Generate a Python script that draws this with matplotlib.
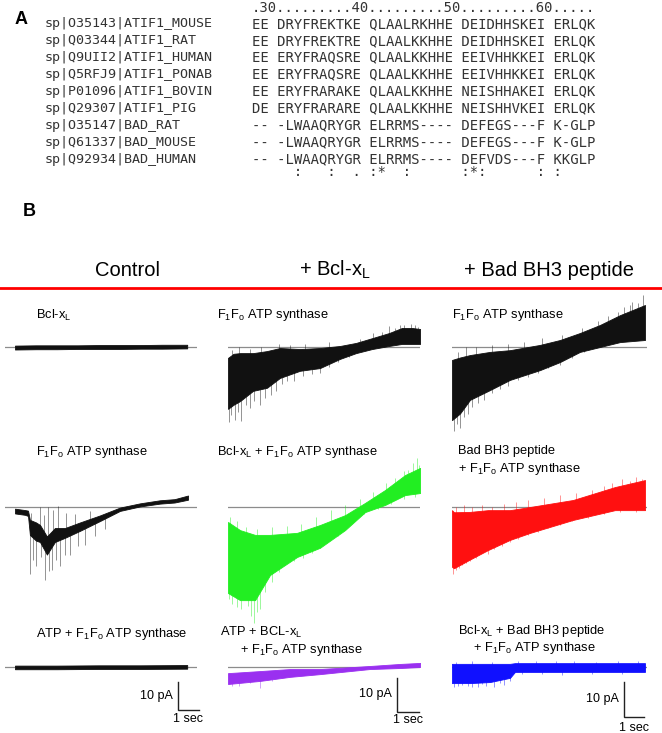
import matplotlib.pyplot as plt
import numpy as np

W, H = 662, 733
plt.rcParams['font.family'] = ['Liberation Sans', 'DejaVu Sans']
plt.rcParams['mathtext.fontset'] = 'custom'
plt.rcParams['mathtext.rm'] = 'Liberation Sans'
plt.rcParams['mathtext.it'] = 'Liberation Sans:italic'
plt.rcParams['mathtext.default'] = 'regular'

# ---------------- panel A: alignment ----------------
names = ["sp|O35143|ATIF1_MOUSE", "sp|Q03344|ATIF1_RAT", "sp|Q9UII2|ATIF1_HUMAN",
         "sp|Q5RFJ9|ATIF1_PONAB", "sp|P01096|ATIF1_BOVIN", "sp|Q29307|ATIF1_PIG",
         "sp|O35147|BAD_RAT", "sp|Q61337|BAD_MOUSE", "sp|Q92934|BAD_HUMAN"]
seqs = ["EE DRYFREKTKE QLAALRKHHE DEIDHHSKEI ERLQK",
        "EE DRYFREKTRE QLAALKKHHE DEIDHHSKEI ERLQK",
        "EE ERYFRAQSRE QLAALKKHHE EEIVHHKKEI ERLQK",
        "EE ERYFRAQSRE QLAALKKHHE EEIVHHKKEI ERLQK",
        "EE ERYFRARAKE QLAALKKHHE NEISHHAKEI ERLQK",
        "DE ERYFRARARE QLAALKKHHE NEISHHVKEI ERLQK",
        "-- -LWAAQRYGR ELRRMS---- DEFEGS---F K-GLP",
        "-- -LWAAQRYGR ELRRMS---- DEFEGS---F K-GLP",
        "-- -LWAAQRYGR ELRRMS---- DEFVDS---F KKGLP"]
ruler = ".30.........40.........50.........60....."
consensus = "     :   :  . :*  :      :*:      : :"

# ---------------- panel B: current traces (time s, current pA) ----------------
# envelope (t, lo, hi) + downward / upward spikes (t, v)

# Control column
ctl_bcl_t = [0, 1, 2, 3, 4, 5, 6, 7, 8.2]
ctl_bcl_lo = [-0.9, -0.8, -0.8, -0.7, -0.7, -0.7, -0.6, -0.6, -0.5]
ctl_bcl_hi = [0.5, 0.6, 0.6, 0.6, 0.7, 0.7, 0.7, 0.8, 0.8]

ctl_f1fo_t = [0, 0.48, 0.62, 0.71, 1.0, 1.19, 1.52, 1.9, 2.38, 3.1, 4.05, 5.0, 5.95, 6.9, 7.6, 8.24]
ctl_f1fo_lo = [-2.3, -2.8, -3.2, -10.0, -12.0, -12.5, -17.0, -12.5, -11.0, -8.5, -5.0, -1.4, 0.2, 1.2, 1.6, 2.6]
ctl_f1fo_hi = [-0.6, -1.1, -1.3, -4.6, -5.5, -6.4, -10.5, -7.5, -7.5, -5.5, -3.0, -0.2, 1.3, 2.4, 2.8, 4.1]
ctl_f1fo_dn_t = [0.71, 0.86, 1.0, 1.24, 1.43, 1.62, 1.76, 1.95, 2.14, 2.38, 2.62, 3.0, 3.33, 3.8, 4.3]
ctl_f1fo_dn_v = [-24.0, -19.0, -21.0, -18.0, -26.0, -23.0, -22.5, -19.0, -21.0, -17.0, -17.0, -14.0, -13.5, -10.5, -8.0]
ctl_f1fo_up_t = [0.76, 1.19, 1.38, 1.57, 1.8, 2.05, 2.43, 2.86, 3.57]
ctl_f1fo_up_v = [-2.0, 0.0, -3.0, 0.0, -1.0, 0.3, -2.0, -2.5, -1.5]

ctl_atp_t = [0, 2, 4, 6, 8.2]
ctl_atp_lo = [-0.8, -0.8, -0.7, -0.7, -0.6]
ctl_atp_hi = [0.5, 0.5, 0.6, 0.6, 0.7]

# + Bcl-xL column
bx_f1fo_t = [0, 0.25, 0.55, 1.14, 1.77, 2.36, 3.27, 4.18, 5.09, 5.82, 6.55, 7.32, 7.91, 8.36, 8.73]
bx_f1fo_lo = [-18.2, -17.0, -15.9, -12.9, -12.0, -9.1, -7.0, -6.2, -3.5, -1.8, -0.6, 0.3, 0.9, 0.9, 0.9]
bx_f1fo_hi = [-3.2, -2.0, -1.8, -1.8, -1.2, -0.3, -0.6, -0.3, 0.3, 1.2, 2.6, 4.1, 5.6, 5.6, 5.3]
bx_f1fo_dn_t = [0.05, 0.15, 0.3, 0.45, 0.6, 0.8, 1.0, 1.2, 1.45, 1.7, 1.95, 2.2, 2.45, 2.7,
                3.0, 3.4, 3.8, 4.2, 4.6, 5.0, 5.5]
bx_f1fo_dn_v = [-22.0, -20.0, -21.5, -19.0, -21.8, -17.0, -18.0, -16.0, -17.0, -15.0, -14.0,
                -13.0, -11.0, -10.0, -10.0, -8.5, -8.0, -7.5, -6.0, -4.5, -3.0]
bx_f1fo_up_t = [0.2, 0.5, 1.0, 1.5, 2.3, 2.8, 3.5, 4.6, 6.0, 6.6, 7.0, 7.3, 7.6, 7.8, 8.0, 8.3, 8.5, 8.65]
bx_f1fo_up_v = [-1.0, 0.0, -0.5, 0.0, 1.0, 0.5, 1.0, 1.5, 2.5, 4.0, 4.5, 6.2, 5.5, 6.5, 6.5, 6.8, 6.4, 6.0]

bx_bclf1fo_t = [0, 0.55, 1.23, 1.91, 3.14, 4.18, 5.32, 6.23, 7.14, 8.05, 8.73]
bx_bclf1fo_lo = [-25.3, -27.4, -27.4, -20.0, -14.7, -12.0, -6.8, -1.5, 0.6, 3.5, 4.1]
bx_bclf1fo_hi = [-4.4, -6.8, -8.2, -8.2, -7.6, -5.3, -2.4, 1.2, 5.0, 9.4, 11.5]
bx_bclf1fo_dn_t = [0.05, 0.2, 0.4, 0.6, 0.9, 1.05, 1.2, 1.3, 1.45, 1.7, 2.0, 2.3, 2.6, 3.0, 3.4,
                   3.8, 4.2, 4.6, 5.0, 5.4, 5.8, 6.2, 6.8, 7.4, 8.0, 8.5]
bx_bclf1fo_dn_v = [-27.0, -28.5, -29.5, -30.0, -29.0, -32.0, -34.0, -31.0, -30.0, -25.0, -22.0,
                   -19.0, -17.0, -16.0, -15.0, -13.5, -12.0, -10.0, -8.5, -6.0, -3.5, -2.0,
                   -0.5, 1.0, 2.5, 3.0]
bx_bclf1fo_up_t = [0.1, 0.4, 0.8, 1.3, 2.0, 2.7, 3.3, 4.0, 4.7, 5.3, 6.0, 6.6, 7.2, 7.6, 8.0,
                   8.2, 8.4, 8.6, 8.7]
bx_bclf1fo_up_v = [-3.0, -4.0, -6.0, -6.5, -6.0, -5.5, -5.0, -3.0, -1.0, 0.5, 2.5, 4.5, 7.0,
                   8.5, 10.5, 11.0, 13.0, 14.4, 12.5]

bx_atp_t = [0, 1.45, 2.82, 4.18, 6.45, 7.82, 8.73]
bx_atp_lo = [-5.0, -4.1, -2.9, -2.1, -0.6, -0.3, 0.0]
bx_atp_hi = [-1.8, -1.2, -0.6, -0.6, 0.3, 0.9, 1.2]
bx_atp_dn_t = [0.2, 0.5, 1.0, 1.45, 2.0]
bx_atp_dn_v = [-5.5, -5.5, -4.8, -6.2, -4.0]
bx_atp_up_t = []
bx_atp_up_v = []

# + Bad BH3 peptide column
bad_f1fo_t = [0, 0.4, 0.9, 1.9, 2.9, 4.4, 5.4, 6.4, 7.4, 8.4, 9.65]
bad_f1fo_lo = [-20.9, -19.0, -15.1, -12.3, -9.4, -6.6, -4.3, -1.4, 0.0, 1.4, 2.0]
bad_f1fo_hi = [-3.7, -3.0, -2.3, -1.4, -0.9, 0.6, 2.0, 4.0, 6.3, 9.1, 12.0]
bad_f1fo_dn_t = [0.1, 0.25, 0.4, 0.6, 0.8, 1.0, 1.3, 1.6, 2.0, 2.4, 2.8, 3.3, 3.8, 4.3, 4.8,
                 5.4, 6.0, 6.6]
bad_f1fo_dn_v = [-24.0, -22.0, -23.0, -20.0, -19.0, -17.0, -16.0, -15.0, -13.0, -12.0, -11.0,
                 -9.5, -8.5, -7.5, -6.0, -5.0, -3.0, -1.5]
bad_f1fo_up_t = [0.3, 0.7, 1.2, 2.0, 2.8, 3.6, 4.5, 5.5, 6.5, 7.3, 7.8, 8.3, 8.6, 8.9, 9.0, 9.3, 9.55]
bad_f1fo_up_v = [-1.5, 0.0, 0.0, 0.5, 1.0, 1.5, 2.5, 3.5, 5.5, 7.5, 9.0, 10.0, 11.5, 12.0,
                 13.0, 12.5, 14.9]

bad_badf1fo_t = [0, 0.1, 0.9, 1.8, 2.9, 3.9, 6.05, 8.15, 9.65]
bad_badf1fo_lo = [-17.1, -17.5, -15.0, -12.3, -9.4, -7.4, -3.7, -0.9, -0.9]
bad_badf1fo_hi = [-0.9, -1.5, -1.4, -0.9, -0.9, 0.0, 2.0, 5.7, 7.7]
bad_badf1fo_dn_t = [0.05, 0.2, 0.35, 0.5, 0.7, 0.9, 1.2, 1.5, 1.8, 2.1, 2.5, 2.9, 3.3, 3.8, 4.3,
                    4.8, 5.4, 6.0, 6.8, 7.6, 8.4, 9.2]
bad_badf1fo_dn_v = [-19.0, -18.0, -17.5, -16.5, -16.0, -15.5, -14.5, -13.0, -13.5, -12.0, -11.0,
                    -10.0, -9.0, -8.0, -7.0, -6.0, -5.0, -4.0, -3.0, -2.0, -1.5, -1.5]
bad_badf1fo_up_t = [0.2, 0.6, 1.0, 1.5, 2.0, 2.6, 3.2, 3.8, 4.6, 5.4, 6.2, 7.0, 7.6, 8.0, 8.5,
                    8.9, 9.2, 9.5]
bad_badf1fo_up_v = [0.0, 0.5, 0.0, 0.5, 0.0, 1.0, 1.5, 2.0, 2.5, 3.5, 4.0, 5.0, 6.0, 7.0, 8.0,
                    7.5, 8.5, 8.0]

bad_bclbad_t = [0, 0.9, 1.9, 2.9, 3.15, 5.0, 7.5, 9.65]
bad_bclbad_lo = [-4.6, -4.6, -4.3, -3.1, -1.4, -1.4, -1.4, -1.4]
bad_bclbad_hi = [0.9, 0.9, 0.9, 0.9, 1.1, 1.1, 1.1, 1.1]
bad_bclbad_dn_t = [0.1, 0.3, 0.5, 0.8, 1.0, 1.3, 1.5, 1.7, 2.1, 2.4, 2.6, 2.9, 3.5, 4.5, 5.5, 7.0, 8.5]
bad_bclbad_dn_v = [-5.7, -5.5, -5.2, -5.5, -5.6, -5.7, -4.8, -5.4, -5.6, -4.5, -5.0, -4.0,
                   -2.0, -2.0, -2.2, -2.0, -2.0]
bad_bclbad_up_t = [0.2, 1.0, 2.0, 3.3, 4.2, 5.2, 6.1, 7.2, 8.3, 9.3]
bad_bclbad_up_v = [1.5, 1.6, 1.5, 1.8, 1.6, 1.7, 1.8, 1.5, 1.6, 1.8]

# ---------------- layout (pixels) ----------------
col_x0 = [5, 228, 452]          # baseline start
col_x1 = [197, 420, 647]        # baseline end
col_trace_x0 = [15, 228, 452]   # t = 0
px_per_s = [21, 22, 20]
px_per_pA = [2.8, 3.4, 3.5]
row_base_y = [347, 507, 667]

fig = plt.figure(figsize=(W / 100, H / 100), dpi=100)


def fx(x):
    return x / W


def fy(y):
    return 1 - y / H


def trace_axes(c, r, up=70, down=90):
    ax = fig.add_axes([fx(col_x0[c]), fy(row_base_y[r] + down),
                       (col_x1[c] - col_x0[c]) / W, (up + down) / H])
    t0 = -(col_trace_x0[c] - col_x0[c]) / px_per_s[c]
    ax.set_xlim(t0, t0 + (col_x1[c] - col_x0[c]) / px_per_s[c])
    ax.set_ylim(-down / px_per_pA[c], up / px_per_pA[c])
    ax.axis('off')
    ax.axhline(0, color='#8c8c8c', lw=0.9, zorder=1)
    return ax


def draw_trace(ax, t, lo, hi, color, dn_t=(), dn_v=(), up_t=(), up_v=()):
    t = np.asarray(t)
    lo = np.asarray(lo)
    hi = np.asarray(hi)
    mid = (lo + hi) / 2
    ax.fill_between(t, lo, hi, color=color, lw=0.6, zorder=2, clip_on=False)
    if len(dn_t):
        ax.vlines(dn_t, dn_v, np.interp(dn_t, t, mid), color=color, lw=0.45,
                  alpha=0.7, zorder=2, clip_on=False)
    if len(up_t):
        ax.vlines(up_t, np.interp(up_t, t, mid), up_v, color=color, lw=0.45,
                  alpha=0.7, zorder=2, clip_on=False)


black = '#111111'
green = '#22ee22'
red = '#ff1010'
purple = '#9a30f0'
blue = '#1010ff'

ax = trace_axes(0, 0)
draw_trace(ax, ctl_bcl_t, ctl_bcl_lo, ctl_bcl_hi, black)
ax = trace_axes(0, 1)
draw_trace(ax, ctl_f1fo_t, ctl_f1fo_lo, ctl_f1fo_hi, black,
           ctl_f1fo_dn_t, ctl_f1fo_dn_v, ctl_f1fo_up_t, ctl_f1fo_up_v)
ax3 = [None, None, None]
ax3[0] = trace_axes(0, 2)
draw_trace(ax3[0], ctl_atp_t, ctl_atp_lo, ctl_atp_hi, black)

ax = trace_axes(1, 0)
draw_trace(ax, bx_f1fo_t, bx_f1fo_lo, bx_f1fo_hi, black,
           bx_f1fo_dn_t, bx_f1fo_dn_v, bx_f1fo_up_t, bx_f1fo_up_v)
ax = trace_axes(1, 1)
draw_trace(ax, bx_bclf1fo_t, bx_bclf1fo_lo, bx_bclf1fo_hi, green,
           bx_bclf1fo_dn_t, bx_bclf1fo_dn_v, bx_bclf1fo_up_t, bx_bclf1fo_up_v)
ax3[1] = trace_axes(1, 2)
draw_trace(ax3[1], bx_atp_t, bx_atp_lo, bx_atp_hi, purple,
           bx_atp_dn_t, bx_atp_dn_v, bx_atp_up_t, bx_atp_up_v)

ax = trace_axes(2, 0)
draw_trace(ax, bad_f1fo_t, bad_f1fo_lo, bad_f1fo_hi, black,
           bad_f1fo_dn_t, bad_f1fo_dn_v, bad_f1fo_up_t, bad_f1fo_up_v)
ax = trace_axes(2, 1)
draw_trace(ax, bad_badf1fo_t, bad_badf1fo_lo, bad_badf1fo_hi, red,
           bad_badf1fo_dn_t, bad_badf1fo_dn_v, bad_badf1fo_up_t, bad_badf1fo_up_v)
ax3[2] = trace_axes(2, 2)
draw_trace(ax3[2], bad_bclbad_t, bad_bclbad_lo, bad_bclbad_hi, blue,
           bad_bclbad_dn_t, bad_bclbad_dn_v, bad_bclbad_up_t, bad_bclbad_up_v)

# scale bars: 10 pA / 1 sec, anchored at (t, pA) of the corner
sb_t = [7.76, 7.68, 8.6]
sb_v = [-15.4, -13.2, -14.3]
sb_lab_dy = [3.2, 2.4, 3.1]
for c in range(3):
    a = ax3[c]
    a.plot([sb_t[c], sb_t[c], sb_t[c] + 1], [sb_v[c] + 10, sb_v[c], sb_v[c]],
           color='#222222', lw=1.0, clip_on=False, solid_joinstyle='miter')
    a.text(sb_t[c] - 0.25, sb_v[c] + 5.2, "10 pA", ha='right', va='center', fontsize=9)
    a.text(sb_t[c] + 0.5, sb_v[c] - sb_lab_dy[c], "1 sec", ha='center', va='center', fontsize=9)

# ---------------- text ----------------
mono = 'DejaVu Sans Mono'
fig.text(fx(15), fy(19), "A", fontsize=13, fontweight='bold', va='center')
fig.text(fx(252), fy(8), ruler, family=mono, fontsize=10, va='center', color='#333333')
for i, (n, s) in enumerate(zip(names, seqs)):
    y = 24 + i * 16.9
    fig.text(fx(45), fy(y), n, family=mono, fontsize=9.6, va='center', color='#333333')
    fig.text(fx(252), fy(y), s, family=mono, fontsize=10, va='center', color='#333333')
fig.text(fx(252), fy(172), consensus, family=mono, fontsize=10, va='center', color='#333333')

fig.text(fx(23), fy(212), "B", fontsize=13, fontweight='bold', va='center')
hdr = ["Control", "+ Bcl-x$_L$", "+ Bad BH3 peptide"]
hdr_x = [128, 335, 549]
for h, x in zip(hdr, hdr_x):
    fig.text(fx(x), fy(270), h, fontsize=14.5, ha='center', va='center')
fig.add_artist(plt.Line2D([0, 1], [fy(288), fy(288)], transform=fig.transFigure,
                          color='#ff0000', lw=2))

f1fo = "F$_1$F$_o$ ATP synthase"
labels = [
    (36, 315, "Bcl-x$_L$"),
    (217, 315, f1fo),
    (452, 315, f1fo),
    (36, 452, f1fo),
    (217, 452, "Bcl-x$_L$ + " + f1fo),
    (458, 451, "Bad BH3 peptide"),
    (458, 469, "+ " + f1fo),
    (36, 634, "ATP + " + f1fo),
    (220, 632, "ATP + BCL-x$_L$"),
    (240, 650, "+ " + f1fo),
    (458, 631, "Bcl-x$_L$ + Bad BH3 peptide"),
    (473, 648, "+ " + f1fo),
]
for x, y, s in labels:
    fig.text(fx(x), fy(y), s, fontsize=9.3, va='center')

fig.savefig("out.png", dpi=100)
